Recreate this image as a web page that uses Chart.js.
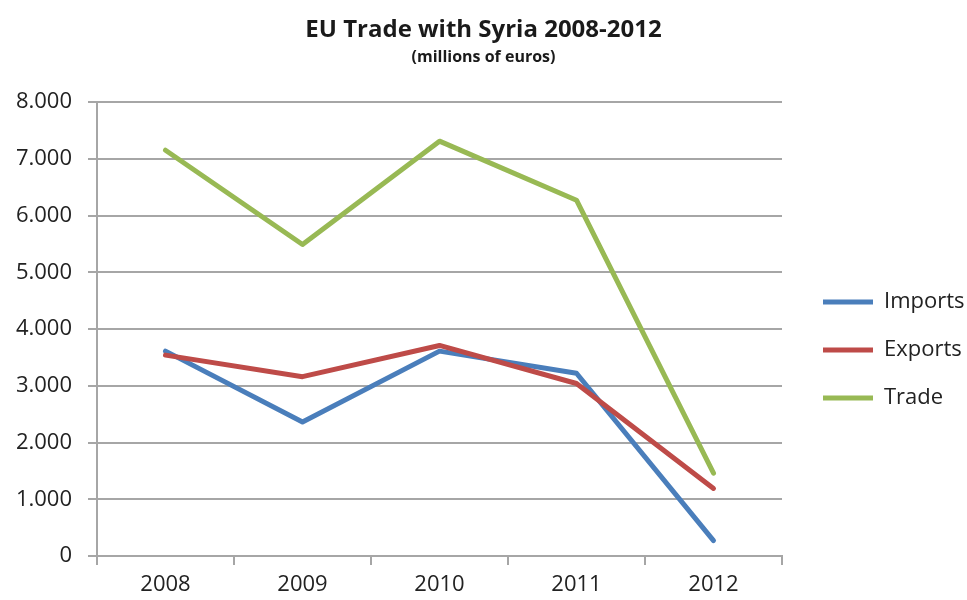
<!DOCTYPE html>
<html>
<head>
<meta charset="utf-8">
<title>EU Trade with Syria 2008-2012</title>
<script src="https://cdn.jsdelivr.net/npm/chart.js@4"></script>
<style>
  html, body { margin: 0; padding: 0; background: #fff; }
  #wrap { width: 967px; height: 600px; position: relative; }
</style>
</head>
<body>
<div id="wrap"><canvas id="trade"></canvas></div>
<script>
const years = ['2008', '2009', '2010', '2011', '2012'];

// millions of euros
const imports = [3610, 2360, 3610, 3220, 270];
const exports = [3540, 3160, 3710, 3040, 1190];
const trade = [7150, 5490, 7310, 6270, 1460];

const yMax = 8000;
const yStep = 1000;

const ctx = document.getElementById('trade');
const font = 'Open Sans';
const gridColor = '#a6a6a6';

// 8000 -> "8.000"
function thousands(v) {
    return String(v).replace(/\B(?=(\d{3})+(?!\d))/g, '.');
}

function series(label, data, color, order) {
    return {
        label: label,
        data: data,
        borderColor: color,
        backgroundColor: color,
        borderWidth: 5,
        borderCapStyle: 'round',
        borderJoinStyle: 'round',
        pointRadius: 0,
        pointHoverRadius: 0,
        pointStyle: 'line',
        tension: 0,
        order: order
    };
}

new Chart(ctx, {
    type: 'line',
    data: {
        labels: years,
        datasets: [
            series('Imports', imports, '#4a7ebb', 3),
            series('Exports', exports, '#be4b48', 2),
            series('Trade', trade, '#98b954', 1)
        ]
    },
    options: {
        responsive: true,
        maintainAspectRatio: false,
        animation: false,
        layout: { padding: 0 },
        plugins: {
            title: {
                display: true,
                text: 'EU Trade with Syria 2008-2012',
                color: '#1a1a1a',
                font: { family: font, size: 24, weight: 'bold' },
                padding: { top: 16, bottom: 0 }
            },
            subtitle: {
                display: true,
                text: '(millions of euros)',
                color: '#1a1a1a',
                font: { family: font, size: 16, weight: 'bold' },
                padding: { top: 3, bottom: 35 }
            },
            legend: {
                position: 'right',
                align: 'center',
                fullSize: false,
                maxWidth: 170,
                // empty title only pushes the entries down a bit
                title: {
                    display: true,
                    text: '',
                    font: { family: font, size: 35 },
                    padding: 0
                },
                labels: {
                    usePointStyle: true,
                    pointStyleWidth: 50,
                    color: '#222',
                    font: { family: font, size: 22 },
                    padding: 26,
                    sort: (a, b) => a.datasetIndex - b.datasetIndex
                }
            },
            tooltip: { enabled: false }
        },
        scales: {
            x: {
                offset: true,
                afterFit: s => { s.height = 44; },
                grid: {
                    offset: true,
                    drawOnChartArea: false,
                    color: gridColor,
                    lineWidth: 2,
                    tickLength: 9
                },
                border: { color: gridColor, width: 2 },
                ticks: {
                    color: '#222',
                    font: { family: font, size: 22 },
                    padding: 7
                }
            },
            y: {
                min: 0,
                max: yMax,
                afterFit: s => { s.width = 97; },
                grid: {
                    color: gridColor,
                    lineWidth: 2,
                    tickLength: 9
                },
                border: { color: gridColor, width: 2 },
                ticks: {
                    stepSize: yStep,
                    color: '#222',
                    font: { family: font, size: 22 },
                    padding: 16,
                    callback: v => thousands(v)
                }
            },
            // empty axis keeping a little room between the plot and the legend
            gap: {
                type: 'linear',
                position: 'right',
                display: true,
                afterFit: s => { s.width = 15; },
                grid: { display: false },
                border: { display: false },
                ticks: { display: false }
            }
        }
    }
});
</script>
</body>
</html>
